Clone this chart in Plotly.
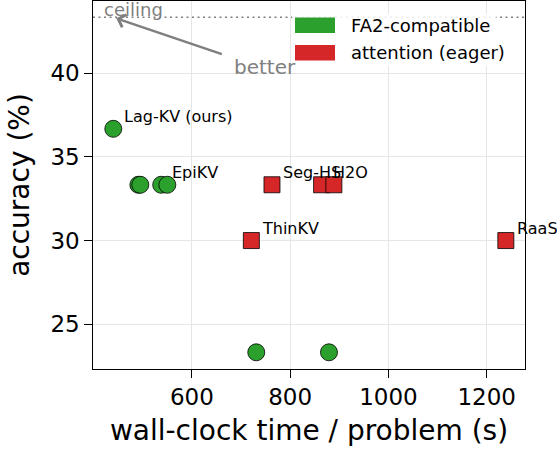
import plotly.graph_objects as go

# ---- data ----
fa2_time = [440, 491, 495, 537.5, 550, 731, 879]
fa2_acc = [36.67, 33.33, 33.33, 33.33, 33.33, 23.33, 23.33]
fa2_labels = ["Lag-KV (ours)", "", "", "EpiKV", "", "", ""]

eager_time = [721, 763, 864, 889, 1239]
eager_acc = [30.0, 33.33, 33.33, 33.33, 30.0]
eager_labels = ["ThinKV", "Seg-HS", "H2O", "", "RaaS"]

CEILING = 43.33
legend_names = ["FA2-compatible", "attention (eager)"]

GREEN = "#2ca02c"
RED = "#d62728"
GRAY = "#7f7f7f"
FONT = "DejaVu Sans"

fig = go.Figure()
fig.add_trace(go.Scatter(
    x=fa2_time, y=fa2_acc, mode="markers", showlegend=False,
    marker=dict(symbol="circle", size=17, color=GREEN,
                line=dict(color="black", width=0.8)),
    cliponaxis=False))
fig.add_trace(go.Scatter(
    x=eager_time, y=eager_acc, mode="markers", showlegend=False,
    marker=dict(symbol="square", size=16, color=RED,
                line=dict(color="black", width=0.8)),
    cliponaxis=False))

annotations = []
for xs, ys, labs in [(fa2_time, fa2_acc, fa2_labels), (eager_time, eager_acc, eager_labels)]:
    for x, y, t in zip(xs, ys, labs):
        if t:
            annotations.append(dict(x=x, y=y, xref="x", yref="y", text=t, showarrow=False,
                                    xanchor="left", yanchor="middle", xshift=9, yshift=12,
                                    font=dict(family=FONT, size=16, color="black")))

# ceiling text and arrow
annotations.append(dict(x=418, y=43.8, xref="x", yref="y", text="ceiling", showarrow=False,
                        xanchor="left", yanchor="middle",
                        font=dict(family=FONT, size=18, color=GRAY)))
annotations.append(dict(x=446, y=43.27, xref="x", yref="y", ax=664, ay=41.1, axref="x", ayref="y",
                        text="", showarrow=True, arrowhead=4, arrowsize=1.1, arrowwidth=2.3,
                        arrowcolor=GRAY, standoff=0, startstandoff=0))
annotations.append(dict(x=681, y=40.34, xref="x", yref="y", text="better", showarrow=False,
                        xanchor="left", yanchor="middle",
                        font=dict(family=FONT, size=20, color=GRAY)))

shapes = [dict(type="line", xref="paper", yref="y", x0=0, x1=1, y0=CEILING, y1=CEILING,
               line=dict(color=GRAY, width=1.6, dash="2px,3.5px"), layer="between")]

# manual legend (patches) in pixel-like paper coordinates
W, H = 557, 450
L, R, T, B = 93, 32, 1, 81
pw, ph = W - L - R, H - T - B
def px(x):
    return (x - L) / pw
def py(y):
    return 1 - (y - T) / ph

shapes.append(dict(type="rect", xref="paper", yref="paper", x0=px(292), x1=px(496), y0=py(66), y1=py(14),
                   fillcolor="rgba(255,255,255,0.85)", line=dict(width=0), layer="above"))
for i, (name, col) in enumerate(zip(legend_names, [GREEN, RED])):
    yc = 25.3 + i * 27.5
    shapes.append(dict(type="rect", xref="paper", yref="paper", x0=px(295), x1=px(335),
                       y0=py(yc + 7.8), y1=py(yc - 7.8), fillcolor=col, line=dict(width=0), layer="above"))
    annotations.append(dict(x=px(349), y=py(yc), xref="paper", yref="paper", text=name, showarrow=False,
                            xanchor="left", yanchor="middle",
                            font=dict(family=FONT, size=18, color="black")))

axis_common = dict(showline=True, linecolor="black", linewidth=1.3, mirror=True,
                   ticks="outside", ticklen=7.5, tickwidth=1.3, tickcolor="black",
                   showgrid=True, gridcolor="#e6e6e6", gridwidth=1, zeroline=False,
                   tickfont=dict(family=FONT, size=23, color="black"))

fig.update_layout(
    width=W, height=H, margin=dict(l=L, r=R, t=T, b=B, autoexpand=False),
    paper_bgcolor="white", plot_bgcolor="white",
    font=dict(family=FONT, color="black"),
    xaxis=dict(range=[398.7, 1278], tickvals=[600, 800, 1000, 1200],
               title=dict(text="wall-clock time / problem (s)", font=dict(family=FONT, size=28), standoff=11),
               **axis_common),
    yaxis=dict(range=[22.333, 44.3], tickvals=[25, 30, 35, 40],
               title=dict(text="accuracy (%)", font=dict(family=FONT, size=28), standoff=12),
               **axis_common),
    annotations=annotations, shapes=shapes, showlegend=False,
)

fig.write_html("out.html")
